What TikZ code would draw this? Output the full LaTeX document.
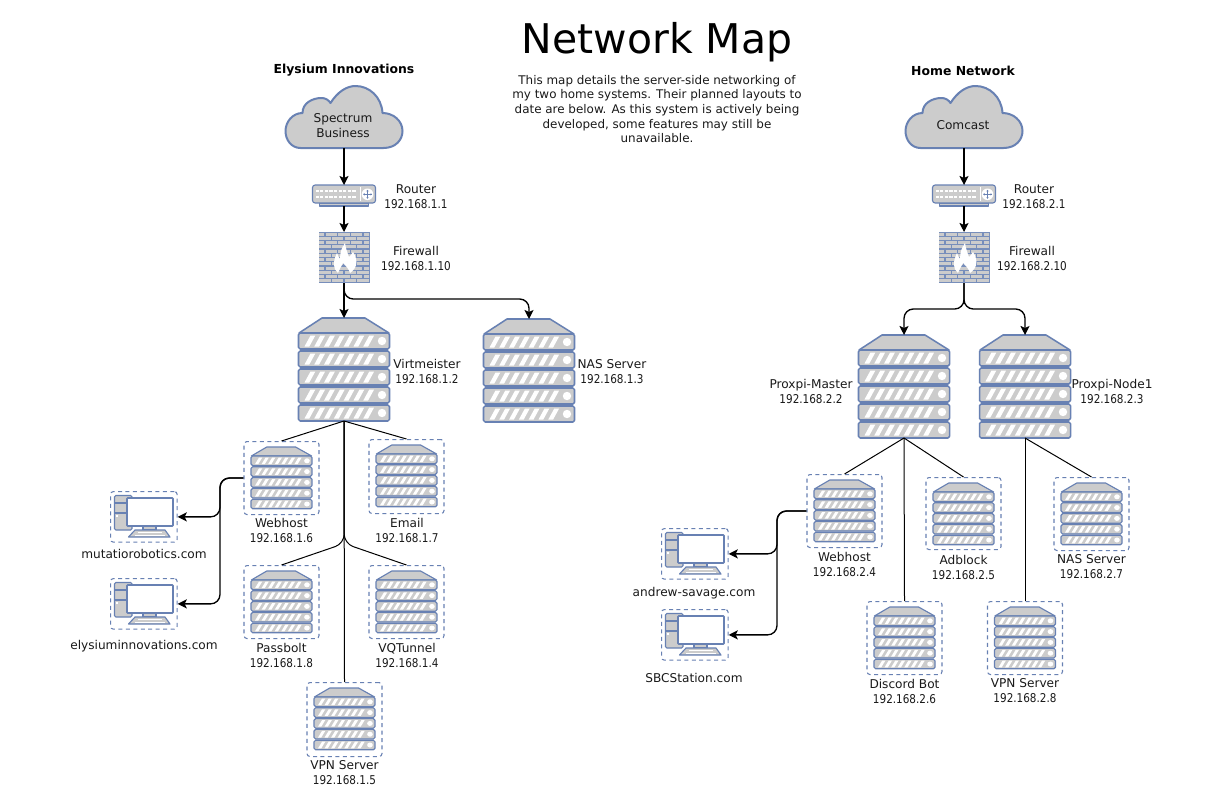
\documentclass[tikz,border=0pt]{standalone}
\usepackage{fontspec}
\setmainfont{DejaVu Sans}
\newfontfamily\ipfont[FakeStretch=0.86]{DejaVu Sans}
\newcommand{\ipnum}[1]{{\ipfont #1}}
\usetikzlibrary{arrows.meta}
\definecolor{netblue}{HTML}{6881B3}
\definecolor{netgrey}{HTML}{CCCCCC}
\definecolor{nettext}{HTML}{1A1A1A}
\tikzset{
  inset/.style={inner sep=0pt,outer sep=0pt,draw=none,fill=none},
  shell/.style={draw=netblue,fill=netgrey,line width=1.15pt,line join=round},
  thinshell/.style={draw=netblue,fill=netgrey,line width=0.85pt,line join=round},
  dashbox/.style={draw=netblue,line width=0.8pt,dash pattern=on 3pt off 2.6pt,rounded corners=2.2pt},
  lab/.style={inner sep=0pt,align=center,text=nettext,font=\fontsize{9.1pt}{11.25pt}\selectfont},
  head/.style={inner sep=0pt,align=center,text=black,font=\fontsize{9.3pt}{12pt}\bfseries\selectfont},
  link/.style={draw=black,line width=1pt,-{Stealth[length=6.8pt,width=6.8pt,inset=1.6pt]}},
  plain/.style={draw=black,line width=0.75pt,line join=round},
}
% #1 cx, #2 top, #3 xscale, #4 yscale, #5 shell style
\newcommand{\rackgfx}[5]{%
  \begin{scope}[shift={(#1,#2)},xscale=#3,yscale=#4]
    \path[#5] (-45,15)--(-22,0)--(21,0)--(45,15)--cycle;
    \foreach \t in {0,1,2,3,4}{
      \path[#5,rounded corners=1.2pt] (-45.5,15+18*\t) rectangle (45.5,31+18*\t);
      \foreach \k in {0,...,6}{
        \fill[white] (-39.5+9.8*\k,28.5+18*\t)--(-33.5+9.8*\k,17.5+18*\t)--(-28.7+9.8*\k,17.5+18*\t)--(-34.7+9.8*\k,28.5+18*\t)--cycle;
      }
      \fill[white] (38,23+18*\t) circle (4.2);
    }
  \end{scope}}
\newcommand{\bigrack}[3]{% name, cx, top
  \node[inset,minimum width=67.5pt,minimum height=77.25pt,anchor=north] (#1) at (#2,#3) {};
  \rackgfx{#2}{#3}{1}{1}{shell}}
\newcommand{\smallrack}[4]{% name, cx, boxtop, height
  \node[dashbox,minimum width=56.25pt,minimum height=#4*0.75pt,anchor=north] (#1) at (#2,#3) {};
  \rackgfx{#2}{#3+6}{0.67}{0.6}{thinshell}}
\newcommand{\pcbox}[3]{% name, left, top
  \node[dashbox,minimum width=50pt,minimum height=38pt,anchor=north west] (#1) at (#2,#3) {};
  \begin{scope}[shift={(#2,#3)}]
    \path[thinshell,rounded corners=1pt] (4.5,4.5) rectangle (22,39);
    \draw[netblue,line width=0.85pt] (4.5,12)--(22,12) (4.5,22)--(17,22);
    \fill[white] (6,24) rectangle (8,26);
    \path[thinshell] (33,35) rectangle (46,39);
    \path[thinshell] (25,39)--(55,39)--(60,46)--(18.5,46)--cycle;
    \draw[white,line width=0.6pt] (28,41.5)--(52,41.5) (25,44)--(55,44);
    \path[draw=netblue,fill=white,line width=1.15pt,rounded corners=0.5pt] (17,7) rectangle (63,35);
  \end{scope}}
\newcommand{\cloudgfx}[2]{% name, cx
  \node[inset,minimum width=87.75pt,minimum height=46.5pt,anchor=north] (#1) at (#2,86) {};
  \begin{scope}[shift={(#2-0.5,86)}]
    \path[draw=netblue,fill=netgrey,line width=1.5pt,line join=round]
      (-43,62) .. controls (-52,62) and (-58,54) .. (-58,45)
      .. controls (-58,36) and (-51,27) .. (-41,27)
      .. controls (-41,17) and (-31,12) .. (-22,12)
      .. controls (-18,12) and (-15,14) .. (-13,17)
      .. controls (-6,6) and (3,0) .. (12,0)
      .. controls (26,0) and (38,11) .. (39,27)
      .. controls (50,27) and (59,35) .. (59,45)
      .. controls (59,54) and (52,62) .. (40,62) -- cycle;
  \end{scope}}
\newcommand{\routergfx}[2]{% name, cx
  \node[inset,minimum width=47.25pt,minimum height=15.75pt,anchor=north] (#1) at (#2,185) {};
  \begin{scope}[shift={(#2,185)}]
    \path[thinshell] (-24.5,18) rectangle (24.5,21);
    \path[thinshell,rounded corners=2pt] (-31.5,0) rectangle (31.5,18);
    \foreach \i in {0,...,8}{
      \fill[white] (-28.5+4.6*\i,4.7) rectangle (-25.3+4.6*\i,7.4);
      \fill[white] (-28.5+4.6*\i,10.7) rectangle (-25.3+4.6*\i,13.4);
    }
    \fill[white] (15.5,2) rectangle (16.7,16);
    \fill[white] (23.5,9.3) circle (5.8);
    \draw[netblue,line width=0.55pt] (19.5,9.3)--(27.5,9.3) (23.5,5.3)--(23.5,13.3);
    \fill[netblue] (19,9.3)--(20.5,8.1)--(20.5,10.5)--cycle (28,9.3)--(26.5,8.1)--(26.5,10.5)--cycle
      (23.5,4.8)--(22.3,6.3)--(24.7,6.3)--cycle (23.5,13.8)--(22.3,12.3)--(24.7,12.3)--cycle;
  \end{scope}}
\newcommand{\firewallgfx}[2]{% name, cx
  \node[inset,minimum width=38.25pt,minimum height=38.25pt,anchor=north] (#1) at (#2,232) {};
  \begin{scope}[shift={(#2,232)}]
    \fill[netblue!90] (-25.5,0) rectangle (25.5,51);
    \begin{scope}
      \clip (-25,0.5) rectangle (25,50.5);
      \foreach \r in {0,...,11}{
        \pgfmathsetmacro{\off}{mod(\r,2)*6.4}
        \foreach \c in {-3,...,3}{
          \fill[netgrey] (\c*12.75+\off-6.4+0.7,\r*4.25+0.6) rectangle ++(11.4,3.1);
        }
      }
    \end{scope}
    \path[fill=white] (-6,41) .. controls (-11,37) and (-11.5,30) .. (-7,21)
      .. controls (-6,24) and (-5,26) .. (-4,27)
      .. controls (-4,20) and (-2,15) .. (1,11)
      .. controls (2,18) and (4,22) .. (5,25)
      .. controls (6,24) and (8,22) .. (9,20)
      .. controls (13,26) and (15,35) .. (6,41)
      .. controls (5,37) and (2,34) .. (-1,31)
      .. controls (-3,35) and (-5,38) .. (-6,41) -- cycle;
  \end{scope}}
\begin{document}
\begin{tikzpicture}[x=0.75pt,y=-0.75pt]
\useasboundingbox[fill=white] (0,0) rectangle (1219,803);

% ---- heading
\node[inner sep=0pt,text=black,font=\fontsize{30.7pt}{34pt}\selectfont] (maptitle) at (657,42) {Network Map};
\node[lab,font=\fontsize{8.95pt}{10.95pt}\selectfont] (mapnote) at (657,109) {This map details the server-side networking of\\my two home systems. Their planned layouts to\\date are below. As this system is actively being\\developed, some features may still be\\unavailable.};
\node[head] (leftname) at (344,70.5) {Elysium Innovations};
\node[head] (rightname) at (963,70.5) {Home Network};

% ---- left network
\cloudgfx{cloudl}{344}
\node[lab] (cloudltxt) at (343,125.5) {Spectrum\\Business};
\routergfx{routerl}{344}
\firewallgfx{firel}{344}
\bigrack{virt}{344}{318}
\bigrack{nasl}{529}{319}
\smallrack{webl}{281.5}{441}{73}
\smallrack{maill}{406.5}{439}{74}
\smallrack{passl}{281.5}{565}{73}
\smallrack{vql}{406.5}{565}{73}
\smallrack{vpnl}{344.5}{682}{74}
\pcbox{pcla}{110}{491}
\pcbox{pclb}{110}{578}

\node[lab] (t1) at (416,197) {Router\\\ipnum{192.168.1.1}};
\node[lab] (t2) at (416,258) {Firewall\\\ipnum{192.168.1.10}};
\node[lab] (t3) at (427,371) {Virtmeister\\\ipnum{192.168.1.2}};
\node[lab] (t4) at (612,372) {NAS Server\\\ipnum{192.168.1.3}};
\node[lab] (t5) at (281.5,530.5) {Webhost\\\ipnum{192.168.1.6}};
\node[lab] (t6) at (407,530) {Email\\\ipnum{192.168.1.7}};
\node[lab] (t7) at (281.5,655) {Passbolt\\\ipnum{192.168.1.8}};
\node[lab] (t8) at (407,655) {VQTunnel\\\ipnum{192.168.1.4}};
\node[lab] (t9) at (344.5,773) {VPN Server\\\ipnum{192.168.1.5}};
\node[lab] (t10) at (144,554) {mutatiorobotics.com};
\node[lab] (t11) at (144,646) {elysiuminnovations.com};

\draw[link] (cloudl.south) -- (routerl.north);
\draw[link] (routerl.south |- 0,206) -- (firel.north);
\draw[link] (firel.south) -- (virt.north);
\coordinate (nasbend) at (430,299);
\draw[link,rounded corners=7pt] (firel.south) |- (nasbend) -| (nasl.north);
\draw[plain] (virt.south) -- (webl.north);
\draw[plain] (virt.south) -- (maill.north);
\draw[plain] (virt.south) -- (vpnl.north);
\coordinate (virtfork) at (344.2,543.5);
\draw[plain,rounded corners=7pt] (virt.south) -- (virtfork) -- (passl.north);
\draw[plain,rounded corners=7pt] (virt.south) -- (virtfork) -- (vql.north);
\coordinate (webjoinl) at (220,477);
\draw[link,rounded corners=7pt] (webl.west) -- (webjoinl |- webl.west) -- (webjoinl |- pcla.east) -- (pcla.east);
\draw[link,rounded corners=7pt] (webl.west) -- (webjoinl |- webl.west) -- (webjoinl |- pclb.east) -- (pclb.east);

% ---- right network
\cloudgfx{cloudr}{964}
\node[lab] (cloudrtxt) at (963,125) {Comcast};
\routergfx{routerr}{964}
\firewallgfx{firer}{964}
\bigrack{master}{904}{335}
\bigrack{nodeone}{1025}{335}
\smallrack{webr}{844.5}{474}{73}
\smallrack{adblock}{963.5}{477}{72}
\smallrack{nasr}{1091.5}{477}{73}
\smallrack{discord}{904.5}{601}{73}
\smallrack{vpnr}{1025}{601}{73}
\pcbox{pcra}{661}{528}
\pcbox{pcrb}{661}{609}

\node[lab] (u1) at (1034,197) {Router\\\ipnum{192.168.2.1}};
\node[lab] (u2) at (1032,258) {Firewall\\\ipnum{192.168.2.10}};
\node[lab] (u3) at (811,391.5) {Proxpi-Master\\\ipnum{192.168.2.2}};
\node[lab] (u4) at (1112,391.5) {Proxpi-Node1\\\ipnum{192.168.2.3}};
\node[lab] (u5) at (844.5,564) {Webhost\\\ipnum{192.168.2.4}};
\node[lab] (u6) at (963.5,567) {Adblock\\\ipnum{192.168.2.5}};
\node[lab] (u7) at (1091.5,567) {NAS Server\\\ipnum{192.168.2.7}};
\node[lab] (u8) at (904.5,691) {Discord Bot\\\ipnum{192.168.2.6}};
\node[lab] (u9) at (1025,691) {VPN Server\\\ipnum{192.168.2.8}};
\node[lab] (u10) at (694,593) {andrew-savage.com};
\node[lab] (u11) at (694,678) {SBCStation.com};

\draw[link] (cloudr.south) -- (routerr.north);
\draw[link] (routerr.south |- 0,206) -- (firer.north);
\coordinate (firefork) at (964,309);
\draw[link,rounded corners=7pt] (firer.south) |- (firefork) -| (master.north);
\draw[link,rounded corners=7pt] (firer.south) |- (firefork) -| (nodeone.north);
\draw[plain] (master.south) -- (webr.north);
\draw[plain] (master.south) -- (adblock.north);
\draw[plain] (master.south) -- (discord.north);
\draw[plain] (nodeone.south) -- (nasr.north);
\draw[plain] (nodeone.south) -- (vpnr.north);
\coordinate (webjoinr) at (777,510);
\draw[link,rounded corners=7pt] (webr.west) -- (webjoinr |- webr.west) -- (webjoinr |- pcra.east) -- (pcra.east);
\draw[link,rounded corners=7pt] (webr.west) -- (webjoinr |- webr.west) -- (webjoinr |- pcrb.east) -- (pcrb.east);
\end{tikzpicture}
\end{document}
